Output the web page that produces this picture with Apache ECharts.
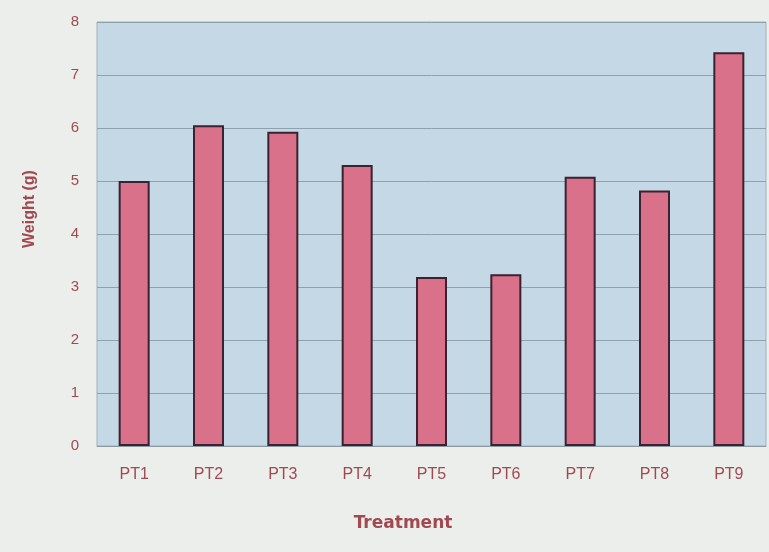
<!DOCTYPE html>
<html>
<head>
<meta charset="utf-8">
<script src="https://cdn.jsdelivr.net/npm/echarts@6/dist/echarts.min.js"></script>
<style>
  html, body { margin: 0; padding: 0; background: #eceeec; }
  #chart { width: 769px; height: 552px; }
</style>
</head>
<body>
<div id="chart"></div>
<script>
// Treatments and mean weights (g)
const categories = ['PT1', 'PT2', 'PT3', 'PT4', 'PT5', 'PT6', 'PT7', 'PT8', 'PT9'];
const weights = [5.0, 6.05, 5.93, 5.3, 3.19, 3.24, 5.08, 4.82, 7.43];
const yTicks = { min: 0, max: 8, interval: 1 };

const textColor = '#a04a50';
const chart = echarts.init(document.getElementById('chart'), null, { renderer: 'canvas' });

chart.setOption({
  backgroundColor: '#eceeec',
  animation: false,
  grid: {
    left: 97, right: 3, top: 22, bottom: 106,
    show: true,
    backgroundColor: '#c4d8e5',
    borderColor: '#9fb2bd',
    borderWidth: 1
  },
  xAxis: {
    type: 'category',
    data: categories,
    axisLine: { show: true, lineStyle: { color: '#8b9aa3', width: 1 } },
    axisTick: { show: false },
    axisLabel: {
      color: textColor,
      fontFamily: 'Liberation Sans, Arial, sans-serif',
      fontSize: 16,
      margin: 21
    }
  },
  yAxis: {
    type: 'value',
    min: yTicks.min,
    max: yTicks.max,
    interval: yTicks.interval,
    axisLine: { show: false },
    axisTick: { show: false },
    axisLabel: {
      color: textColor,
      fontFamily: 'Liberation Sans, Arial, sans-serif',
      fontSize: 15,
      margin: 18
    },
    splitLine: { lineStyle: { color: '#8ea2ae', width: 1 } }
  },
  series: [{
    type: 'bar',
    data: weights,
    barWidth: 31,
    itemStyle: {
      color: '#d9718a',
      borderColor: '#3a2230',
      borderWidth: 2
    }
  }],
  graphic: [
    {
      type: 'text',
      x: 30, y: 209,
      rotation: Math.PI / 2,
      style: {
        text: 'Weight (g)',
        fill: textColor,
        font: 'bold 16px "Liberation Sans", Arial, sans-serif',
        align: 'center',
        verticalAlign: 'middle'
      }
    },
    {
      type: 'text',
      x: 403, y: 524,
      style: {
        text: 'Treatment',
        fill: textColor,
        font: 'bold 17px "DejaVu Sans", sans-serif',
        align: 'center',
        verticalAlign: 'middle'
      }
    }
  ]
});
</script>
</body>
</html>
